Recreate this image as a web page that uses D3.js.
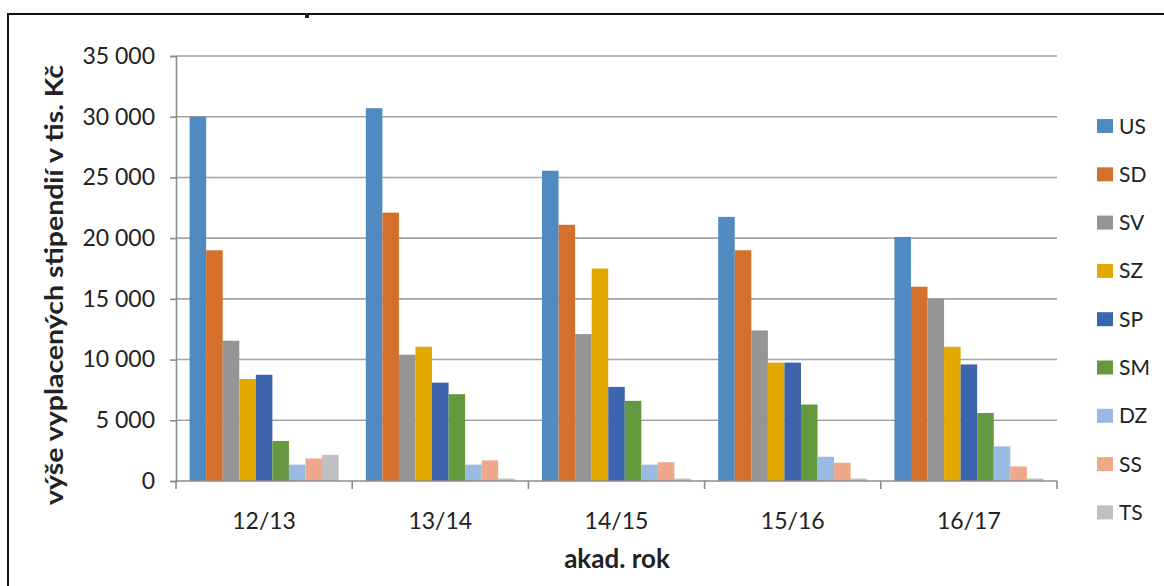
<!DOCTYPE html>
<html>
<head>
<meta charset="utf-8">
<script src="https://cdn.jsdelivr.net/npm/d3@7"></script>
<style>
  html, body { margin: 0; padding: 0; background: #fff; }
  svg { display: block; }
  text { font-family: Lato, "Open Sans", sans-serif; fill: #222; }
</style>
</head>
<body>
<svg id="chart" width="1164" height="586"></svg>
<script>
const categories = ["12/13", "13/14", "14/15", "15/16", "16/17"];
const seriesNames = ["US", "SD", "SV", "SZ", "SP", "SM", "DZ", "SS", "TS"];
const US = [30000, 30700, 25550, 21750, 20100];
const SD = [19000, 22100, 21100, 19000, 16000];
const SV = [11550, 10400, 12100, 12400, 15000];
const SZ = [8400, 11050, 17500, 9750, 11050];
const SP = [8750, 8100, 7750, 9750, 9600];
const SM = [3300, 7150, 6600, 6300, 5600];
const DZ = [1350, 1350, 1350, 2000, 2850];
const SS = [1850, 1700, 1550, 1500, 1200];
const TS = [2150, 200, 200, 200, 200];
const yTicks = [0, 5000, 10000, 15000, 20000, 25000, 30000, 35000];
const colors = ["#4f8bc0", "#d4702c", "#959595", "#e2aa00", "#3d65ad", "#64993f", "#99bbe1", "#f0a88a", "#c0c0c0"];
const yTitle = "výše vyplacených stipendií v tis. Kč";
const xTitle = "akad. rok";

const values = [US, SD, SV, SZ, SP, SM, DZ, SS, TS];

const svg = d3.select("#chart");

// outer frame (extends beyond the visible crop)
svg.append("rect")
  .attr("x", 8).attr("y", 14)
  .attr("width", 1400).attr("height", 800)
  .attr("fill", "none").attr("stroke", "#111").attr("stroke-width", 2);
// fragment of cut-off title
svg.append("rect").attr("x", 305).attr("y", 14).attr("width", 4).attr("height", 4).attr("fill", "#222");

const plot = { left: 176, right: 1057, top: 56, bottom: 481 };

const x0 = d3.scaleBand().domain(categories).range([plot.left, plot.right]).padding(0);
const groupW = 149;
const x1 = d3.scaleBand().domain(seriesNames)
  .range([(x0.bandwidth() - groupW) / 2, (x0.bandwidth() + groupW) / 2]).padding(0);
const y = d3.scaleLinear().domain([0, 35000]).range([plot.bottom, plot.top]);

const locale = d3.formatLocale({ decimal: ",", thousands: " ", grouping: [3], currency: ["", " Kč"] });
const fmt = locale.format(",d");

// gridlines
svg.append("g")
  .selectAll("line").data(yTicks.filter(d => d > 0)).join("line")
  .attr("x1", plot.left).attr("x2", plot.right)
  .attr("y1", d => y(d)).attr("y2", d => y(d))
  .attr("stroke", "#a3a3a3").attr("stroke-width", 1.6);

// y axis
const yAxis = svg.append("g")
  .attr("transform", `translate(${plot.left},0)`)
  .call(d3.axisLeft(y).tickValues(yTicks).tickFormat(fmt).tickSize(6).tickPadding(15));
yAxis.select(".domain").attr("stroke", "#8c8c8c").attr("stroke-width", 1.6);
yAxis.selectAll(".tick line").attr("stroke", "#8c8c8c").attr("stroke-width", 1.6);
yAxis.selectAll(".tick text").style("font-family", "Lato, sans-serif").style("font-size", "23px").attr("fill", "#222");

// bars
const groups = svg.append("g").selectAll("g").data(categories).join("g")
  .attr("transform", d => `translate(${x0(d)},0)`);
groups.selectAll("rect")
  .data((c, ci) => seriesNames.map((s, si) => ({ s, si, v: values[si][ci] })))
  .join("rect")
  .attr("x", d => x1(d.s))
  .attr("width", x1.bandwidth())
  .attr("y", d => y(d.v))
  .attr("height", d => y(0) - y(d.v))
  .attr("fill", d => colors[d.si]);

// x axis
const xAxisScale = d3.scalePoint().domain(d3.range(categories.length + 1)).range([plot.left, plot.right]);
const xAxis = svg.append("g").attr("transform", `translate(0,${plot.bottom})`);
xAxis.append("line").attr("x1", plot.left).attr("x2", plot.right)
  .attr("stroke", "#8c8c8c").attr("stroke-width", 1.6);
xAxis.selectAll("line.tk").data(xAxisScale.domain()).join("line").attr("class", "tk")
  .attr("x1", d => xAxisScale(d)).attr("x2", d => xAxisScale(d))
  .attr("y1", 0).attr("y2", 8)
  .attr("stroke", "#8c8c8c").attr("stroke-width", 1.6);
xAxis.selectAll("text").data(categories).join("text")
  .attr("x", d => x0(d) + x0.bandwidth() / 2)
  .attr("y", 48)
  .attr("text-anchor", "middle")
  .style("font-size", "23px")
  .text(d => d);

// axis titles
svg.append("text")
  .attr("transform", `translate(63,285) rotate(-90)`)
  .attr("text-anchor", "middle")
  .attr("textLength", 440).attr("lengthAdjust", "spacingAndGlyphs")
  .style("font-size", "25px").style("font-weight", "bold").attr("fill", "#111")
  .text(yTitle);
svg.append("text")
  .attr("x", 617).attr("y", 568)
  .attr("text-anchor", "middle")
  .style("font-size", "26px").style("font-weight", "bold").attr("fill", "#111")
  .text(xTitle);

// legend
const legend = svg.append("g").selectAll("g").data(seriesNames).join("g")
  .attr("transform", (d, i) => `translate(1097,${126 + i * 48.3})`);
legend.append("rect").attr("x", 0).attr("y", -7).attr("width", 16).attr("height", 14)
  .attr("fill", (d, i) => colors[i]);
legend.append("text").attr("x", 22).attr("y", 0).attr("dy", "0.36em")
  .style("font-size", "21px").attr("fill", "#111").text(d => d);
</script>
</body>
</html>
